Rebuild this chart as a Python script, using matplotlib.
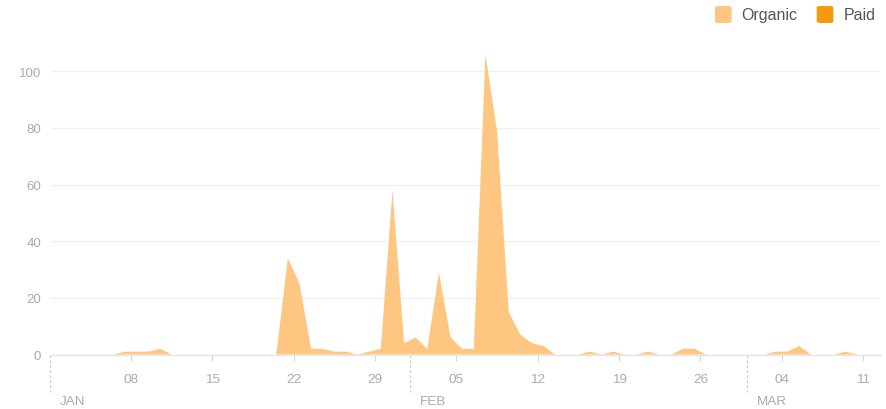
import matplotlib
matplotlib.use('Agg')
import matplotlib.pyplot as plt
from matplotlib.patches import FancyBboxPatch
import pandas as pd

# ---------------- data ----------------
start_date = '2024-01-01'
end_date = '2024-03-12'

organic = [
    0, 0, 0, 0, 0, 0, 0, 1, 1, 1,        # Jan 1-10
    2, 0, 0, 0, 0, 0, 0, 0, 0, 0,        # Jan 11-20
    0, 34, 25, 2, 2, 1, 1, 0, 1, 2,      # Jan 21-30
    58, 4, 6, 2, 29, 6, 2, 2, 106, 79,   # Jan 31 - Feb 9
    15, 7, 4, 3, 0, 0, 0, 1, 0, 1,       # Feb 10-19
    0, 0, 1, 0, 0, 2, 2, 0, 0, 0,        # Feb 20-29
    0, 0, 0, 1, 1, 3, 0, 0, 0, 1,        # Mar 1-10
    0, 0,                                # Mar 11-12
]
paid = [
    0, 0, 0, 0, 0, 0, 0, 0, 0, 0,
    0, 0, 0, 0, 0, 0, 0, 0, 0, 0,
    0, 0, 0, 0, 0, 0, 0, 0, 0, 0,
    0, 0, 0, 0, 0, 0, 0, 0, 0, 0,
    0, 0, 0, 0, 0, 0, 0, 0, 0, 0,
    0, 0, 0, 0, 0, 0, 0, 0, 0, 0,
    0, 0, 0, 0, 0, 0, 0, 0, 0, 0,
    0, 0,
]
series_names = ['Organic', 'Paid']
tick_dates = ['2024-01-08', '2024-01-15', '2024-01-22', '2024-01-29', '2024-02-05',
              '2024-02-12', '2024-02-19', '2024-02-26', '2024-03-04', '2024-03-11']
tick_labels = ['08', '15', '22', '29', '05', '12', '19', '26', '04', '11']
month_dates = ['2024-01-01', '2024-02-01', '2024-03-01']
month_labels = ['JAN', 'FEB', 'MAR']
y_ticks = [0, 20, 40, 60, 80, 100]

# ---------------- style ----------------
plt.rcParams['font.family'] = ['Liberation Sans', 'DejaVu Sans']
c_org = '#FEC680'
c_paid = '#F7990E'
c_lbl = '#ABABAB'
c_grid = '#F0F0F0'

W, H = 887, 410
fig = plt.figure(figsize=(W / 100, H / 100), dpi=100)
left_px, right_px, top_px, bottom_px = 49.7, 880.5, 44.0, 355.5
ax = fig.add_axes([left_px / W, 1 - bottom_px / H,
                   (right_px - left_px) / W, (bottom_px - top_px) / H])

dates = pd.date_range(start_date, end_date, freq='D') - pd.Timedelta(hours=12)
ax.stackplot(dates, organic, paid, colors=[c_org, c_paid], linewidth=0)

ax.set_xlim(pd.Timestamp(start_date), pd.Timestamp(end_date) + pd.Timedelta(hours=12))
ax.set_ylim(0, 110)

ax.set_yticks(y_ticks)
ax.set_yticklabels([str(v) for v in y_ticks])
ax.yaxis.grid(True, color=c_grid, linewidth=0.9)
ax.set_axisbelow(True)
ax.tick_params(axis='y', length=0, pad=6, labelcolor=c_lbl, labelsize=9.5)

ax.set_xticks(pd.to_datetime(tick_dates))
ax.set_xticklabels(tick_labels)
ax.tick_params(axis='x', length=4, width=0.8, color='#D5D5D5', pad=9,
               labelcolor=c_lbl, labelsize=9.7)

for s in ['top', 'right', 'left']:
    ax.spines[s].set_visible(False)
ax.spines['bottom'].set_color('#E3E3E3')
ax.spines['bottom'].set_linewidth(0.9)

# month separators and labels
for d, lbl in zip(pd.to_datetime(month_dates), month_labels):
    ax.plot([d, d], [0, -37 / (bottom_px - top_px)], transform=ax.get_xaxis_transform(),
            color='#C8C8C8', linestyle=(0, (2, 2)), linewidth=0.9, clip_on=False)
    ax.annotate(lbl, xy=(d, 0), xycoords=('data', 'axes fraction'),
                xytext=(10 * 0.72, -46.5 * 0.72), textcoords='offset points',
                ha='left', va='center', color=c_lbl, fontsize=9.7)

# legend (top right)
def px(x, y):
    return x / W, 1 - y / H

for (x0, tx), name, col in zip([(715, 741.5), (816.7, 843.5)], series_names, [c_org, c_paid]):
    bx, by = px(x0, 24)
    patch = FancyBboxPatch((bx, by), 16.7 / W, 17 / H,
                           boxstyle='round,pad=0,rounding_size=0.004',
                           transform=fig.transFigure, facecolor=col, edgecolor='none')
    fig.add_artist(patch)
    tx_, ty_ = px(tx, 15.5)
    fig.text(tx_, ty_, name, ha='left', va='center', fontsize=11.5, color='#555555')

fig.savefig('out.png', dpi=100)
